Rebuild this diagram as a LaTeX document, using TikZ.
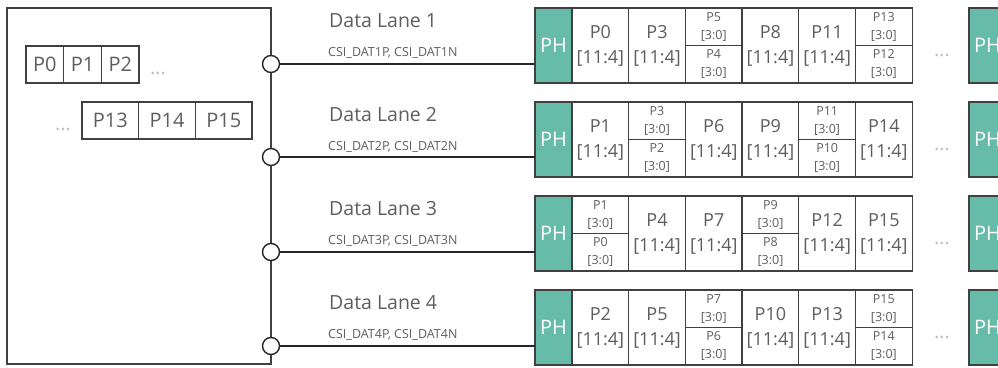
\documentclass[tikz,border=0pt]{standalone}
\usepackage{fontspec}
\setmainfont{Open Sans}
\usepackage{xcolor}
\usepackage{tikz}
\usetikzlibrary{positioning}

\definecolor{linegray}{HTML}{404040}
\definecolor{textgray}{HTML}{5E5E5E}
\definecolor{dotgray}{HTML}{BFBFBF}
\definecolor{phgreen}{HTML}{66BBA9}

\begin{document}
\begin{tikzpicture}[x=1pt, y=-1pt,
  cell/.style={draw=linegray, line width=1.3pt, fill=white, minimum width=56.7pt,
    minimum height=75pt, inner sep=0pt, outer sep=0pt, align=center,
    text=textgray, font=\fontsize{18}{25}\selectfont},
  half/.style={cell, minimum height=37.5pt, font=\fontsize{12.5}{18}\selectfont},
  ph/.style={cell, fill=phgreen, minimum width=37pt, text=white,
    font=\fontsize{20}{24}\selectfont},
  pix/.style={cell, minimum width=37.7pt, minimum height=37pt,
    font=\fontsize{20}{24}\selectfont},
  widepix/.style={pix, minimum width=56.7pt},
  host/.style={draw=linegray, line width=1.3pt, minimum width=264pt,
    minimum height=356pt, inner sep=0pt, outer sep=0pt},
  port/.style={circle, draw=black!85, fill=white, line width=1.4pt,
    minimum size=17pt, inner sep=0pt},
  wire/.style={draw=black!85, line width=1.4pt},
  lane/.style={anchor=west, inner sep=0pt, text=textgray,
    font=\fontsize{19.5}{22}\selectfont},
  pins/.style={anchor=west, inner sep=0pt, text=textgray,
    font=\fontsize{12.5}{14}\selectfont},
  more/.style={inner sep=0pt, text=dotgray, font=\fontsize{20}{20}\selectfont},
]
  \useasboundingbox (0,0) rectangle (998,367);

  % receiver side
  \node[host] (rx) at (139,186) {};
  \node[pix] (s0) at (44.85,64.5) {P0};
  \node[pix, right=0pt of s0] (s1) {P1};
  \node[pix, right=0pt of s1] (s2) {P2};
  \node[more] (sdots1) at (158,73) {…};
  \node[widepix] (s13) at (110.35,120.5) {P13};
  \node[widepix, right=0pt of s13] (s14) {P14};
  \node[widepix, right=0pt of s14] (s15) {P15};
  \node[more] (sdots2) at (63,129) {…};

  % lane 1
  \node[lane] (lane1) at (329,21) {Data Lane 1};
  \node[pins] (pins1) at (328,53) {CSI\_DAT1P, CSI\_DAT1N};
  \node[port] (port1) at (271,64) {};
  \node[ph] (ph1) at (553.5,45.5) {PH};
  \draw[wire] (port1.east) -- (port1 -| ph1.west);
  \node[cell, right=0pt of ph1] (c1a) {P0\\{[11:4]}};
  \node[cell, right=0pt of c1a] (c1b) {P3\\{[11:4]}};
  \node[half, anchor=north west] (c1c) at (c1b.north east) {P5\\{[3:0]}};
  \node[half, below=0pt of c1c] (c1d) {P4\\{[3:0]}};
  \node[cell, anchor=north west] (c1e) at (c1c.north east) {P8\\{[11:4]}};
  \node[cell, right=0pt of c1e] (c1f) {P11\\{[11:4]}};
  \node[half, anchor=north west] (c1g) at (c1f.north east) {P13\\{[3:0]}};
  \node[half, below=0pt of c1g] (c1h) {P12\\{[3:0]}};
  \node[more] (more1) at (942,55) {…};
  \node[ph] (next1) at (987.5,45.5) {PH};

  % lane 2
  \node[lane] (lane2) at (329,115) {Data Lane 2};
  \node[pins] (pins2) at (328,147) {CSI\_DAT2P, CSI\_DAT2N};
  \node[port] (port2) at (271,157) {};
  \node[ph] (ph2) at (553.5,139.5) {PH};
  \draw[wire] (port2.east) -- (port2 -| ph2.west);
  \node[cell, right=0pt of ph2] (c2a) {P1\\{[11:4]}};
  \node[half, anchor=north west] (c2b) at (c2a.north east) {P3\\{[3:0]}};
  \node[half, below=0pt of c2b] (c2c) {P2\\{[3:0]}};
  \node[cell, anchor=north west] (c2d) at (c2b.north east) {P6\\{[11:4]}};
  \node[cell, right=0pt of c2d] (c2e) {P9\\{[11:4]}};
  \node[half, anchor=north west] (c2f) at (c2e.north east) {P11\\{[3:0]}};
  \node[half, below=0pt of c2f] (c2g) {P10\\{[3:0]}};
  \node[cell, anchor=north west] (c2h) at (c2f.north east) {P14\\{[11:4]}};
  \node[more] (more2) at (942,149) {…};
  \node[ph] (next2) at (987.5,139.5) {PH};

  % lane 3
  \node[lane] (lane3) at (329,209) {Data Lane 3};
  \node[pins] (pins3) at (328,241) {CSI\_DAT3P, CSI\_DAT3N};
  \node[port] (port3) at (271,252) {};
  \node[ph] (ph3) at (553.5,233.5) {PH};
  \draw[wire] (port3.east) -- (port3 -| ph3.west);
  \node[half, anchor=north west] (c3a) at (ph3.north east) {P1\\{[3:0]}};
  \node[half, below=0pt of c3a] (c3b) {P0\\{[3:0]}};
  \node[cell, anchor=north west] (c3c) at (c3a.north east) {P4\\{[11:4]}};
  \node[cell, right=0pt of c3c] (c3d) {P7\\{[11:4]}};
  \node[half, anchor=north west] (c3e) at (c3d.north east) {P9\\{[3:0]}};
  \node[half, below=0pt of c3e] (c3f) {P8\\{[3:0]}};
  \node[cell, anchor=north west] (c3g) at (c3e.north east) {P12\\{[11:4]}};
  \node[cell, right=0pt of c3g] (c3h) {P15\\{[11:4]}};
  \node[more] (more3) at (942,243) {…};
  \node[ph] (next3) at (987.5,233.5) {PH};

  % lane 4
  \node[lane] (lane4) at (329,303) {Data Lane 4};
  \node[pins] (pins4) at (328,335) {CSI\_DAT4P, CSI\_DAT4N};
  \node[port] (port4) at (271,346) {};
  \node[ph] (ph4) at (553.5,327.5) {PH};
  \draw[wire] (port4.east) -- (port4 -| ph4.west);
  \node[cell, right=0pt of ph4] (c4a) {P2\\{[11:4]}};
  \node[cell, right=0pt of c4a] (c4b) {P5\\{[11:4]}};
  \node[half, anchor=north west] (c4c) at (c4b.north east) {P7\\{[3:0]}};
  \node[half, below=0pt of c4c] (c4d) {P6\\{[3:0]}};
  \node[cell, anchor=north west] (c4e) at (c4c.north east) {P10\\{[11:4]}};
  \node[cell, right=0pt of c4e] (c4f) {P13\\{[11:4]}};
  \node[half, anchor=north west] (c4g) at (c4f.north east) {P15\\{[3:0]}};
  \node[half, below=0pt of c4g] (c4h) {P14\\{[3:0]}};
  \node[more] (more4) at (942,337) {…};
  \node[ph] (next4) at (987.5,327.5) {PH};
\end{tikzpicture}
\end{document}
